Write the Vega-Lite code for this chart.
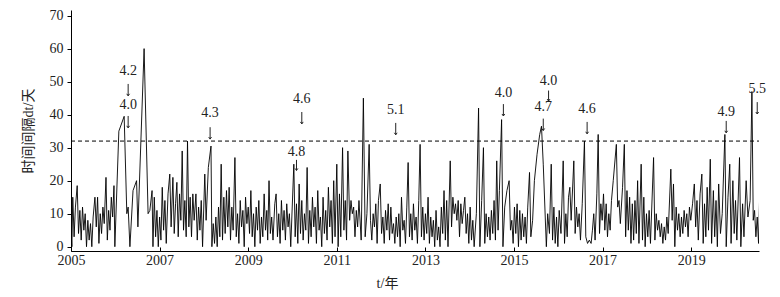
{
  "$schema": "https://vega.github.io/schema/vega-lite/v6.json",
  "width": 688,
  "height": 241,
  "autosize": "none",
  "padding": {"left": 71, "top": 10, "right": 21, "bottom": 46},
  "background": "white",
  "config": {
    "view": {"stroke": null},
    "font": "Liberation Serif",
    "axis": {"labelFont": "Liberation Serif", "titleFont": "Liberation Serif, Noto Sans CJK SC", "labelColor": "#222", "titleColor": "#222", "domainColor": "#000", "tickColor": "#000", "grid": false, "labelFontSize": 14, "titleFontSize": 14, "titleFontWeight": "normal", "labelOverlap": false}
  },
  "datasets": {
    "series": [
      {"t":2005.00,"v":5},{"t":2005.02,"v":0},{"t":2005.04,"v":15},{"t":2005.07,"v":3},{"t":2005.10,"v":12},{"t":2005.14,"v":18.5},{"t":2005.17,"v":4},{"t":2005.20,"v":11},{"t":2005.23,"v":2},{"t":2005.26,"v":12},{"t":2005.29,"v":5},{"t":2005.32,"v":10},{"t":2005.35,"v":0},{"t":2005.38,"v":8},{"t":2005.41,"v":2},{"t":2005.44,"v":7},{"t":2005.47,"v":0},{"t":2005.50,"v":9},{"t":2005.54,"v":15},{"t":2005.57,"v":6},{"t":2005.60,"v":15},{"t":2005.63,"v":1},{"t":2005.66,"v":10},{"t":2005.69,"v":4},{"t":2005.72,"v":12},{"t":2005.75,"v":7},{"t":2005.79,"v":21},{"t":2005.82,"v":2},{"t":2005.85,"v":11},{"t":2005.88,"v":5},{"t":2005.91,"v":15},{"t":2005.94,"v":9},{"t":2005.97,"v":18.5},{"t":2005.99,"v":0},{"t":2006.08,"v":35},{"t":2006.20,"v":39.5},{"t":2006.26,"v":10},{"t":2006.29,"v":12},{"t":2006.33,"v":0},{"t":2006.40,"v":17},{"t":2006.48,"v":20},{"t":2006.51,"v":6},{"t":2006.65,"v":60},{"t":2006.74,"v":10},{"t":2006.78,"v":11},{"t":2006.83,"v":17},{"t":2006.85,"v":0},{"t":2006.88,"v":15},{"t":2006.91,"v":3},{"t":2006.94,"v":11},{"t":2006.97,"v":0},
      {"t":2007.00,"v":9},{"t":2007.03,"v":2},{"t":2007.06,"v":18},{"t":2007.09,"v":5},{"t":2007.12,"v":14},{"t":2007.15,"v":1},{"t":2007.19,"v":16},{"t":2007.23,"v":22},{"t":2007.26,"v":6},{"t":2007.30,"v":21},{"t":2007.33,"v":4},{"t":2007.36,"v":13},{"t":2007.39,"v":19.5},{"t":2007.42,"v":3},{"t":2007.45,"v":16},{"t":2007.48,"v":8},{"t":2007.51,"v":29},{"t":2007.54,"v":5},{"t":2007.57,"v":14},{"t":2007.60,"v":3},{"t":2007.63,"v":32},{"t":2007.66,"v":6},{"t":2007.69,"v":15},{"t":2007.72,"v":3},{"t":2007.75,"v":16},{"t":2007.78,"v":8},{"t":2007.82,"v":16},{"t":2007.85,"v":2},{"t":2007.88,"v":12},{"t":2007.91,"v":5},{"t":2007.94,"v":14},{"t":2007.97,"v":0},
      {"t":2008.02,"v":22},{"t":2008.05,"v":8},{"t":2008.10,"v":24},{"t":2008.16,"v":30.5},{"t":2008.18,"v":0},{"t":2008.21,"v":7},{"t":2008.24,"v":1},{"t":2008.27,"v":9},{"t":2008.30,"v":0},{"t":2008.33,"v":12},{"t":2008.36,"v":3},{"t":2008.39,"v":25},{"t":2008.42,"v":2},{"t":2008.45,"v":15},{"t":2008.48,"v":4},{"t":2008.51,"v":17},{"t":2008.54,"v":6},{"t":2008.57,"v":18},{"t":2008.60,"v":2},{"t":2008.63,"v":12},{"t":2008.66,"v":5},{"t":2008.70,"v":27},{"t":2008.73,"v":3},{"t":2008.76,"v":10},{"t":2008.79,"v":1},{"t":2008.82,"v":14},{"t":2008.85,"v":6},{"t":2008.88,"v":11},{"t":2008.91,"v":0},{"t":2008.94,"v":15},{"t":2008.97,"v":7},
      {"t":2009.00,"v":12},{"t":2009.03,"v":4},{"t":2009.06,"v":17},{"t":2009.09,"v":3},{"t":2009.12,"v":10},{"t":2009.15,"v":0},{"t":2009.18,"v":12},{"t":2009.21,"v":5},{"t":2009.24,"v":14},{"t":2009.27,"v":1},{"t":2009.30,"v":9},{"t":2009.33,"v":3},{"t":2009.36,"v":16},{"t":2009.39,"v":5},{"t":2009.42,"v":11},{"t":2009.44,"v":2},{"t":2009.47,"v":20},{"t":2009.50,"v":4},{"t":2009.53,"v":9},{"t":2009.56,"v":2},{"t":2009.60,"v":13},{"t":2009.63,"v":16},{"t":2009.66,"v":3},{"t":2009.69,"v":10},{"t":2009.72,"v":1},{"t":2009.75,"v":14},{"t":2009.78,"v":5},{"t":2009.81,"v":11},{"t":2009.84,"v":2},{"t":2009.87,"v":13},{"t":2009.90,"v":6},{"t":2009.93,"v":10},{"t":2009.96,"v":0},
      {"t":2010.03,"v":25},{"t":2010.06,"v":3},{"t":2010.09,"v":13},{"t":2010.12,"v":1},{"t":2010.15,"v":19},{"t":2010.18,"v":4},{"t":2010.21,"v":14},{"t":2010.24,"v":2},{"t":2010.27,"v":10},{"t":2010.30,"v":5},{"t":2010.33,"v":24},{"t":2010.36,"v":1},{"t":2010.39,"v":11},{"t":2010.42,"v":3},{"t":2010.45,"v":15},{"t":2010.48,"v":6},{"t":2010.51,"v":12},{"t":2010.54,"v":1},{"t":2010.57,"v":17},{"t":2010.60,"v":5},{"t":2010.63,"v":9},{"t":2010.66,"v":0},{"t":2010.69,"v":15},{"t":2010.72,"v":4},{"t":2010.75,"v":11},{"t":2010.78,"v":2},{"t":2010.81,"v":18},{"t":2010.84,"v":6},{"t":2010.87,"v":14},{"t":2010.90,"v":1},{"t":2010.93,"v":20},{"t":2010.96,"v":3},
      {"t":2011.00,"v":25},{"t":2011.03,"v":0},{"t":2011.06,"v":16},{"t":2011.09,"v":3},{"t":2011.13,"v":30},{"t":2011.16,"v":5},{"t":2011.19,"v":14},{"t":2011.22,"v":2},{"t":2011.25,"v":29},{"t":2011.29,"v":8},{"t":2011.32,"v":14},{"t":2011.35,"v":10},{"t":2011.38,"v":12},{"t":2011.41,"v":3},{"t":2011.44,"v":11},{"t":2011.47,"v":6},{"t":2011.50,"v":14},{"t":2011.55,"v":2},{"t":2011.60,"v":45},{"t":2011.64,"v":3},{"t":2011.68,"v":10},{"t":2011.73,"v":31},{"t":2011.76,"v":8},{"t":2011.79,"v":2},{"t":2011.82,"v":10},{"t":2011.85,"v":6},{"t":2011.88,"v":13},{"t":2011.91,"v":1},{"t":2011.94,"v":14},{"t":2011.98,"v":19},
      {"t":2012.01,"v":4},{"t":2012.04,"v":9},{"t":2012.07,"v":1},{"t":2012.10,"v":11},{"t":2012.13,"v":5},{"t":2012.16,"v":13},{"t":2012.19,"v":2},{"t":2012.22,"v":12},{"t":2012.25,"v":4},{"t":2012.28,"v":7},{"t":2012.31,"v":1},{"t":2012.34,"v":9},{"t":2012.37,"v":3},{"t":2012.40,"v":10},{"t":2012.43,"v":0},{"t":2012.46,"v":15},{"t":2012.49,"v":5},{"t":2012.52,"v":8},{"t":2012.55,"v":1},{"t":2012.58,"v":12},{"t":2012.61,"v":25.5},{"t":2012.64,"v":3},{"t":2012.67,"v":10},{"t":2012.70,"v":2},{"t":2012.73,"v":13},{"t":2012.76,"v":5},{"t":2012.79,"v":9},{"t":2012.82,"v":1},{"t":2012.85,"v":14},{"t":2012.88,"v":31},{"t":2012.91,"v":3},{"t":2012.94,"v":12},{"t":2012.97,"v":2},
      {"t":2013.00,"v":10},{"t":2013.03,"v":4},{"t":2013.06,"v":15},{"t":2013.09,"v":1},{"t":2013.12,"v":9},{"t":2013.15,"v":3},{"t":2013.18,"v":8},{"t":2013.21,"v":0},{"t":2013.24,"v":11},{"t":2013.27,"v":2},{"t":2013.30,"v":6},{"t":2013.33,"v":0},{"t":2013.36,"v":12},{"t":2013.39,"v":4},{"t":2013.42,"v":17},{"t":2013.45,"v":2},{"t":2013.48,"v":14},{"t":2013.51,"v":0},{"t":2013.56,"v":26},{"t":2013.59,"v":6},{"t":2013.62,"v":15},{"t":2013.65,"v":10},{"t":2013.68,"v":13},{"t":2013.71,"v":8},{"t":2013.74,"v":14},{"t":2013.77,"v":3},{"t":2013.80,"v":13},{"t":2013.83,"v":7},{"t":2013.86,"v":11},{"t":2013.89,"v":15},{"t":2013.92,"v":4},{"t":2013.95,"v":10},{"t":2013.98,"v":1},
      {"t":2014.01,"v":12},{"t":2014.04,"v":2},{"t":2014.07,"v":8},{"t":2014.10,"v":0},{"t":2014.15,"v":10},{"t":2014.20,"v":42},{"t":2014.23,"v":0},{"t":2014.27,"v":14},{"t":2014.31,"v":30},{"t":2014.34,"v":1},{"t":2014.37,"v":10},{"t":2014.40,"v":3},{"t":2014.43,"v":9},{"t":2014.46,"v":2},{"t":2014.49,"v":11},{"t":2014.52,"v":4},{"t":2014.55,"v":14},{"t":2014.58,"v":2},{"t":2014.61,"v":26},{"t":2014.64,"v":5},{"t":2014.67,"v":17},{"t":2014.72,"v":38.5},{"t":2014.75,"v":0},{"t":2014.79,"v":12},{"t":2014.84,"v":17},{"t":2014.89,"v":20},{"t":2014.92,"v":5},{"t":2014.95,"v":8},{"t":2014.98,"v":1},
      {"t":2015.01,"v":12},{"t":2015.04,"v":4},{"t":2015.07,"v":13},{"t":2015.10,"v":0},{"t":2015.13,"v":11},{"t":2015.16,"v":2},{"t":2015.19,"v":10},{"t":2015.22,"v":3},{"t":2015.25,"v":9},{"t":2015.28,"v":1},{"t":2015.31,"v":12},{"t":2015.35,"v":22.5},{"t":2015.38,"v":3},{"t":2015.42,"v":8},{"t":2015.46,"v":20},{"t":2015.52,"v":28},{"t":2015.58,"v":34},{"t":2015.62,"v":36.5},{"t":2015.66,"v":25},{"t":2015.73,"v":0},{"t":2015.76,"v":10},{"t":2015.80,"v":4},{"t":2015.84,"v":25},{"t":2015.87,"v":2},{"t":2015.90,"v":12},{"t":2015.93,"v":1},{"t":2015.96,"v":9},{"t":2015.99,"v":0},
      {"t":2016.02,"v":11},{"t":2016.06,"v":4},{"t":2016.11,"v":26},{"t":2016.14,"v":1},{"t":2016.17,"v":10},{"t":2016.20,"v":3},{"t":2016.23,"v":15},{"t":2016.26,"v":18},{"t":2016.29,"v":8},{"t":2016.35,"v":26},{"t":2016.38,"v":4},{"t":2016.41,"v":12},{"t":2016.44,"v":6},{"t":2016.47,"v":10},{"t":2016.50,"v":2},{"t":2016.54,"v":13},{"t":2016.59,"v":32},{"t":2016.62,"v":3},{"t":2016.66,"v":1},{"t":2016.70,"v":2},{"t":2016.74,"v":1},{"t":2016.77,"v":5},{"t":2016.80,"v":10},{"t":2016.83,"v":2},{"t":2016.87,"v":16},{"t":2016.90,"v":34},{"t":2016.93,"v":4},{"t":2016.96,"v":13},{"t":2016.99,"v":8},
      {"t":2017.02,"v":16},{"t":2017.05,"v":5},{"t":2017.08,"v":13},{"t":2017.11,"v":3},{"t":2017.14,"v":10},{"t":2017.17,"v":5},{"t":2017.20,"v":14},{"t":2017.24,"v":20},{"t":2017.31,"v":31},{"t":2017.34,"v":12},{"t":2017.37,"v":14},{"t":2017.40,"v":7},{"t":2017.45,"v":18},{"t":2017.49,"v":31},{"t":2017.52,"v":3},{"t":2017.55,"v":17},{"t":2017.58,"v":5},{"t":2017.61,"v":15},{"t":2017.64,"v":1},{"t":2017.67,"v":13},{"t":2017.70,"v":2},{"t":2017.73,"v":14},{"t":2017.76,"v":4},{"t":2017.79,"v":20},{"t":2017.82,"v":1},{"t":2017.87,"v":25},{"t":2017.90,"v":2},{"t":2017.93,"v":15},{"t":2017.96,"v":0},{"t":2017.99,"v":10},
      {"t":2018.02,"v":3},{"t":2018.05,"v":11},{"t":2018.08,"v":1},{"t":2018.15,"v":27},{"t":2018.18,"v":2},{"t":2018.21,"v":10},{"t":2018.24,"v":5},{"t":2018.27,"v":8},{"t":2018.30,"v":3},{"t":2018.33,"v":7},{"t":2018.36,"v":1},{"t":2018.39,"v":6},{"t":2018.42,"v":2},{"t":2018.45,"v":9},{"t":2018.48,"v":4},{"t":2018.54,"v":23.5},{"t":2018.57,"v":8},{"t":2018.60,"v":19},{"t":2018.63,"v":0},{"t":2018.66,"v":12},{"t":2018.69,"v":5},{"t":2018.72,"v":10},{"t":2018.75,"v":3},{"t":2018.78,"v":9},{"t":2018.81,"v":4},{"t":2018.84,"v":11},{"t":2018.87,"v":6},{"t":2018.90,"v":10},{"t":2018.93,"v":3},{"t":2018.96,"v":12},{"t":2018.99,"v":8},
      {"t":2019.03,"v":13},{"t":2019.07,"v":19},{"t":2019.10,"v":6},{"t":2019.13,"v":14},{"t":2019.16,"v":2},{"t":2019.20,"v":16},{"t":2019.24,"v":22},{"t":2019.27,"v":1},{"t":2019.30,"v":13},{"t":2019.33,"v":3},{"t":2019.36,"v":18},{"t":2019.39,"v":5},{"t":2019.43,"v":26.5},{"t":2019.46,"v":1},{"t":2019.50,"v":17},{"t":2019.53,"v":3},{"t":2019.56,"v":14},{"t":2019.59,"v":0},{"t":2019.62,"v":19},{"t":2019.66,"v":4},{"t":2019.70,"v":10},{"t":2019.76,"v":34},{"t":2019.79,"v":0},{"t":2019.83,"v":15},{"t":2019.87,"v":25},{"t":2019.90,"v":1},{"t":2019.94,"v":20},{"t":2019.97,"v":4},
      {"t":2020.00,"v":14},{"t":2020.03,"v":2},{"t":2020.09,"v":27},{"t":2020.12,"v":0},{"t":2020.16,"v":13},{"t":2020.19,"v":3},{"t":2020.24,"v":20},{"t":2020.28,"v":9},{"t":2020.33,"v":14},{"t":2020.37,"v":47},{"t":2020.40,"v":8},{"t":2020.43,"v":11},{"t":2020.46,"v":3},{"t":2020.49,"v":9},{"t":2020.52,"v":1},{"t":2020.55,"v":18.5}
    ],
    "threshold": [{"t":2005,"v":32},{"t":2020.53,"v":32}],
    "labels": [
      {"t":2006.29,"v":53.2,"s":"4.2"},
      {"t":2006.29,"v":42.9,"s":"4.0"},
      {"t":2008.14,"v":40.5,"s":"4.3"},
      {"t":2010.21,"v":44.8,"s":"4.6"},
      {"t":2010.09,"v":28.7,"s":"4.8"},
      {"t":2012.33,"v":41.4,"s":"5.1"},
      {"t":2014.76,"v":46.6,"s":"4.0"},
      {"t":2015.78,"v":50.2,"s":"4.0"},
      {"t":2015.66,"v":42.3,"s":"4.7"},
      {"t":2016.65,"v":41.7,"s":"4.6"},
      {"t":2019.79,"v":40.8,"s":"4.9"},
      {"t":2020.49,"v":47.8,"s":"5.5"}
    ],
    "arrows": [
      {"t":2006.29,"v":49.3,"b":45.7},{"t":2006.29,"v":39.6,"b":36.0},{"t":2008.14,"v":36.2,"b":32.6},{"t":2010.21,"v":40.8,"b":37.2},{"t":2010.09,"v":26.3,"b":23.1},{"t":2012.33,"v":37.5,"b":33.9},{"t":2014.76,"v":43.2,"b":39.6},{"t":2015.78,"v":47.3,"b":44.1},{"t":2015.66,"v":38.8,"b":35.2},{"t":2016.65,"v":37.8,"b":34.2},{"t":2019.79,"v":38.1,"b":34.5},{"t":2020.49,"v":43.8,"b":40.2}
    ],
    "heads": [
      {"t":2006.29,"v":45.7},{"t":2006.29,"v":36.0},{"t":2008.14,"v":32.6},{"t":2010.21,"v":37.2},{"t":2010.09,"v":23.1},{"t":2012.33,"v":33.9},{"t":2014.76,"v":39.6},{"t":2015.78,"v":44.1},{"t":2015.66,"v":35.2},{"t":2016.65,"v":34.2},{"t":2019.79,"v":34.5},{"t":2020.49,"v":40.2}
    ]
  },
  "encoding": {
    "x": {"field": "t", "type": "quantitative",
          "scale": {"domain": [2005, 2020.53], "nice": false, "zero": false},
          "axis": {"values": [2005, 2007, 2009, 2011, 2013, 2015, 2017, 2019], "format": "d", "tickSize": -4, "labelPadding": 6, "title": "t/年", "titleX": 316, "titleY": 25, "titleAlign": "center", "titleBaseline": "top", "labelFlush": false}},
    "y": {"field": "v", "type": "quantitative",
          "scale": {"domain": [-1.3, 71.7], "nice": false, "zero": false},
          "axis": {"values": [0, 10, 20, 30, 40, 50, 60, 70], "tickSize": 4, "labelPadding": 4, "title": "时间间隔dt/天", "titlePadding": 14}}
  },
  "layer": [
    {
      "data": {"name": "series"},
      "mark": {"type": "line", "color": "#000", "strokeWidth": 0.9, "clip": true}
    },
    {
      "data": {"name": "threshold"},
      "mark": {"type": "line", "color": "#000", "strokeWidth": 1, "strokeDash": [4, 3]}
    },
    {
      "data": {"name": "labels"},
      "mark": {"type": "text", "font": "Liberation Serif", "fontSize": 14, "color": "#222", "baseline": "middle", "align": "center"},
      "encoding": {"text": {"field": "s"}}
    },
    {
      "data": {"name": "arrows"},
      "mark": {"type": "rule", "color": "#222", "strokeWidth": 1},
      "encoding": {"y2": {"field": "b"}}
    },
    {
      "data": {"name": "heads"},
      "mark": {"type": "point", "shape": "M-0.7,-1L0,0L0.7,-1", "filled": false, "stroke": "#222", "strokeWidth": 1, "size": 16, "opacity": 1}
    }
  ]
}
